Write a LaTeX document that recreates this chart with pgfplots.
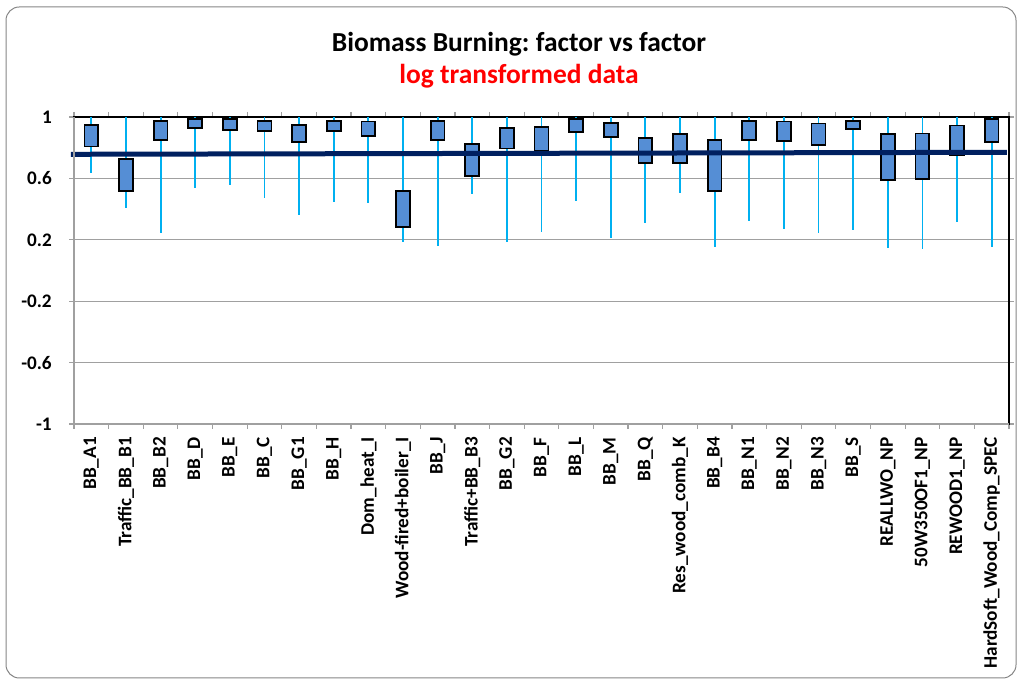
\documentclass[border=0pt]{standalone}
\usepackage{pgfplots}
\pgfplotsset{compat=1.18}
\usepackage{pgfplotstable}
\usepgfplotslibrary{statistics}
\usepackage{fontspec}
\setmainfont{Carlito}
\frenchspacing
\definecolor{boxblue}{RGB}{85,142,213}
\definecolor{wcyan}{RGB}{0,176,240}
\definecolor{navyline}{RGB}{0,32,96}
\definecolor{gridgray}{RGB}{160,160,160}
\definecolor{bordergray}{RGB}{134,134,134}

\pgfplotstableread{
lw lq uq uw
0.637 0.807 0.948 1
0.409 0.516 0.726 1
0.242 0.848 0.976 1
0.535 0.930 0.985 1
0.559 0.915 0.985 1
0.472 0.907 0.972 1
0.364 0.839 0.946 1
0.448 0.907 0.976 1
0.442 0.876 0.970 1
0.184 0.285 0.518 1
0.160 0.852 0.976 1
0.496 0.614 0.826 1
0.184 0.794 0.930 1
0.251 0.780 0.937 1
0.455 0.900 0.985 1
0.212 0.870 0.963 1
0.307 0.702 0.861 1
0.503 0.698 0.891 1
0.155 0.520 0.848 1
0.325 0.852 0.972 1
0.268 0.842 0.970 1
0.246 0.818 0.957 1
0.262 0.922 0.974 1
0.149 0.590 0.891 1
0.140 0.594 0.893 1
0.314 0.752 0.944 1
0.155 0.839 0.985 1
}\bbdata

\pgfplotstableread{
x y
-0.587 0.757
26.44 0.770
}\meanline

\begin{document}
\begin{tikzpicture}
\useasboundingbox (0,0) rectangle (765pt,510pt);
\draw[bordergray, line width=0.75pt, rounded corners=10pt] (4.5pt,1.5pt) rectangle (762pt,504.75pt);
\node[font=\bfseries\fontsize{20.6}{24}\selectfont] at (389.25pt,477pt) {Biomass Burning: factor vs factor};
\node[font=\bfseries\fontsize{20.6}{24}\selectfont, text=red] at (389.25pt,453pt) {log transformed data};
\begin{axis}[
 at={(55.5pt,192pt)}, anchor=south west,
 scale only axis, width=701.25pt, height=230.25pt,
 xmin=-0.5, xmax=26.5, ymin=-1, ymax=1,
 clip=false,
 axis line style={black, line width=0.9pt},
 xtick={0,...,26},
 xticklabels={BB\_A1, Traffic\_BB\_B1, BB\_B2, BB\_D, BB\_E, BB\_C, BB\_G1, BB\_H, Dom\_heat\_I, Wood-fired+boiler\_I, BB\_J, Traffic+BB\_B3, BB\_G2, BB\_F, BB\_L, BB\_M, BB\_Q, Res\_wood\_comb\_K, BB\_B4, BB\_N1, BB\_N2, BB\_N3, BB\_S, REALLWO\_NP, 50W350OF1\_NP, REWOOD1\_NP, HardSoft\_Wood\_Comp\_SPEC},
 minor xtick={-0.5,0.5,...,26.5},
 ytick={-1,-0.6,-0.2,0.2,0.6,1},
 yticklabels={-1,-0.6,-0.2,0.2,0.6,1},
 tick align=outside,
 major tick length=3.75pt, minor tick length=3.75pt,
 tick style={gridgray, line width=0.9pt},
 major x tick style={draw=none},
 ymajorgrids, grid style={gridgray, line width=1pt},
 xticklabel style={rotate=90, anchor=east, font=\bfseries\fontsize{14.4}{16}\selectfont, inner sep=0pt},
 yticklabel style={anchor=east, font=\bfseries\fontsize{14.4}{16}\selectfont, inner sep=0pt},
 xticklabel shift=6pt,
 yticklabel shift=12.75pt,
 boxplot/draw direction=y,
 boxplot/box extend=0.4,
 boxplot/whisker extend=0,
 boxplot/every box/.style={draw=black, fill=boxblue, line width=1.3pt},
 boxplot/every whisker/.style={draw=wcyan, line width=1.4pt},
 boxplot/every median/.style={draw=none},
]
\pgfplotsinvokeforeach{0,...,26}{
 \pgfplotstablegetelem{#1}{lw}\of\bbdata \let\vlw\pgfplotsretval
 \pgfplotstablegetelem{#1}{lq}\of\bbdata \let\vlq\pgfplotsretval
 \pgfplotstablegetelem{#1}{uq}\of\bbdata \let\vuq\pgfplotsretval
 \pgfplotstablegetelem{#1}{uw}\of\bbdata \let\vuw\pgfplotsretval
 \edef\tmp{\noexpand\addplot[boxplot/draw direction=y, boxplot prepared={draw position=#1, lower whisker=\vlw, lower quartile=\vlq, median=\vlq, upper quartile=\vuq, upper whisker=\vuw}] coordinates {};}\tmp
}
\addplot[navyline, line width=3.75pt, no marks] table {\meanline};
\draw[gridgray, line width=0.9pt] (rel axis cs:0,1) -- (rel axis cs:0,0) -- (rel axis cs:1,0);
\end{axis}
\end{tikzpicture}
\end{document}
